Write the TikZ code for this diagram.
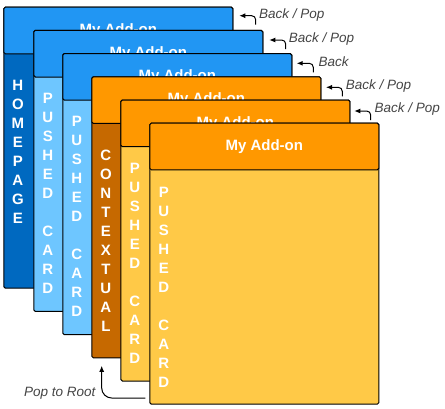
\documentclass[tikz,border=0pt]{standalone}
\usepackage{fontspec}
\setmainfont{Liberation Sans}
\usetikzlibrary{arrows.meta,calc}
\definecolor{hblue}{HTML}{2196F3}
\definecolor{dblue}{HTML}{0069C0}
\definecolor{lblue}{HTML}{6EC6FF}
\definecolor{horange}{HTML}{FF9800}
\definecolor{dorange}{HTML}{C66900}
\definecolor{lamber}{HTML}{FFC947}
\definecolor{labgray}{HTML}{444444}
\tikzset{
  card/.style={draw=black, line width=1pt, rounded corners=1.5pt, anchor=north west,
    minimum width=229pt, minimum height=281pt, inner sep=0pt},
  hdr/.style={draw=black, line width=1pt, rounded corners=1.5pt, anchor=north west,
    minimum width=229pt, minimum height=46.6pt, inner sep=0pt, text=white,
    font=\bfseries\fontsize{15}{18}\selectfont},
  vlab/.style={anchor=north, text=white, align=center, inner sep=0pt,
    font=\bfseries\fontsize{15}{19}\selectfont},
  navlab/.style={anchor=base west, inner sep=0pt, text=labgray,
    font=\itshape\fontsize{13.5}{16}\selectfont},
  navarrow/.style={draw=black, line width=1pt, rounded corners=4pt,
    -{Latex[length=6pt,width=5pt]}},
}
% name, left, top, header colour, body colour, strip text, first letter centre y
\newcommand\mkcard[7]{%
  \node[card, fill=#5] (c#1) at (#2,#3) {};
  \node[hdr, fill=#4] (h#1) at (#2,#3) {My Add-on};
  \node[vlab] (s#1) at ($(#2,#7)+(14.6,-5.4)$) {#6};
}
% name, tip x, line y, vertical x, label x, label baseline, text
\newcommand\mknav[7]{%
  \coordinate (t#1) at (#2,#3);
  \coordinate (e#1) at (#4,{#3+9});
  \draw[navarrow] (e#1) |- (t#1);
  \node[navlab] (l#1) at (#5,#6) {#7};
}
\begin{document}
\begin{tikzpicture}[x=1pt,y=-1pt]
\useasboundingbox (0,0) rectangle (445,408);
\mkcard{1}{3.3}{6.7}{hblue}{dblue}{H\\O\\M\\E\\P\\A\\G\\E}{85}
\mkcard{2}{33.3}{29.9}{hblue}{lblue}{P\\U\\S\\H\\E\\D\\[19pt]C\\A\\R\\D}{98}
\mkcard{3}{62.3}{53.1}{hblue}{lblue}{P\\U\\S\\H\\E\\D\\[19pt]C\\A\\R\\D}{121.7}
\mkcard{4}{91.3}{76.3}{horange}{dorange}{C\\O\\N\\T\\E\\X\\T\\U\\A\\L}{155}
\mkcard{5}{120.3}{99.5}{horange}{lamber}{P\\U\\S\\H\\E\\D\\[19pt]C\\A\\R\\D}{168}
\mkcard{6}{149.3}{122.7}{horange}{lamber}{P\\U\\S\\H\\E\\D\\[19pt]C\\A\\R\\D}{192}
\mknav{1}{239.3}{15.7}{255.7}{259}{18.3}{Back / Pop}
\mknav{2}{269.3}{40}{285.7}{288.7}{42.3}{Back / Pop}
\mknav{3}{296.7}{63.3}{313.3}{318.3}{66}{Back}
\mknav{4}{326}{87.3}{342.3}{345.7}{89.3}{Back / Pop}
\mknav{5}{354.3}{111}{370.7}{374.3}{112.7}{Back / Pop}
\coordinate (ps) at ($(c6.south west)+(-4,-6.7)$);
\coordinate (pt) at ($(c4.south west)+(10.4,7.5)$);
\draw[navarrow, rounded corners=10pt] (ps) -| (pt);
\node[navlab, anchor=base east] (lroot) at (95.5,396) {Pop to Root};
\end{tikzpicture}
\end{document}
